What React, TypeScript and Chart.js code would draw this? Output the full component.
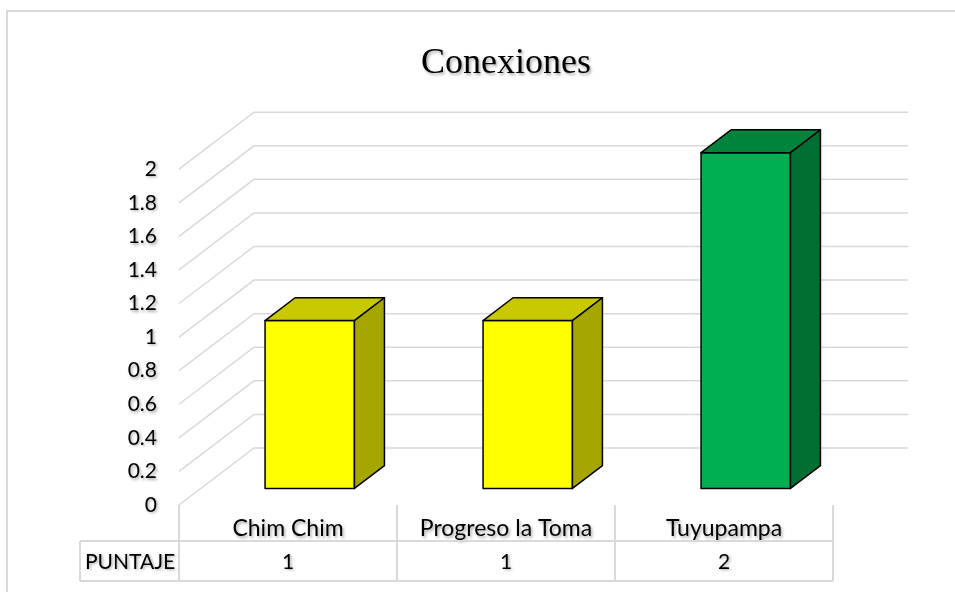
import React, { useEffect, useRef } from "react";
import { Chart, registerables } from "chart.js";

Chart.register(...registerables);

// Data
const categories = ["Chim Chim", "Progreso la Toma", "Tuyupampa"];
const puntaje = [1, 1, 2];
const yTickValues = [0, 0.2, 0.4, 0.6, 0.8, 1, 1.2, 1.4, 1.6, 1.8, 2];
const tableRowLabel = "PUNTAJE";
const chartTitle = "Conexiones";

// Column faces: front, top, side
const frontColors = ["#FFFF00", "#FFFF00", "#00B050"];
const topColors = ["#C8C800", "#C8C800", "#00843B"];
const sideColors = ["#A6A600", "#A6A600", "#006F31"];

// Perspective: offset from the front plane to the back wall
const DEPTH_X = 75;
const DEPTH_Y = -57;
// Depth slice occupied by the columns (fractions of wall depth)
const BAR_FRONT = 0.29;
const BAR_BACK = 0.69;

const GRID = "#D9D9D9";
const FONT = "Lato, 'Open Sans', sans-serif";
const TICK_SIZE = 21;
const CATEGORY_SIZE = 23;
const TABLE_SIZE = 21;

const setShadow = (ctx: CanvasRenderingContext2D) => {
  ctx.shadowColor = "rgba(0,0,0,0.35)";
  ctx.shadowBlur = 3;
  ctx.shadowOffsetX = 1.5;
  ctx.shadowOffsetY = 1.5;
};
const clearShadow = (ctx: CanvasRenderingContext2D) => {
  ctx.shadowColor = "rgba(0,0,0,0)";
  ctx.shadowBlur = 0;
  ctx.shadowOffsetX = 0;
  ctx.shadowOffsetY = 0;
};

const fillPoly = (
  ctx: CanvasRenderingContext2D,
  pts: number[][],
  color: string
) => {
  ctx.beginPath();
  ctx.moveTo(pts[0][0], pts[0][1]);
  for (let i = 1; i < pts.length; i++) ctx.lineTo(pts[i][0], pts[i][1]);
  ctx.closePath();
  ctx.fillStyle = color;
  ctx.fill();
  ctx.stroke();
};

const column3d = {
  id: "column3d",
  beforeDraw(chart: any) {
    const ctx: CanvasRenderingContext2D = chart.ctx;
    clearShadow(ctx);
    ctx.save();
    ctx.strokeStyle = GRID;
    ctx.lineWidth = 2;
    ctx.strokeRect(7, 11, chart.width + 10, chart.height + 10);
    ctx.restore();
    // soft shadow for title and axis labels
    setShadow(ctx);
  },
  beforeDatasetsDraw(chart: any) {
    const ctx: CanvasRenderingContext2D = chart.ctx;
    clearShadow(ctx);
    const { left, right, bottom } = chart.chartArea;
    const yScale = chart.scales.y;
    const xScale = chart.scales.x;

    ctx.save();
    // side-wall and back-wall gridlines
    ctx.strokeStyle = GRID;
    ctx.lineWidth = 1.5;
    yScale.ticks.forEach((t: any) => {
      const py = yScale.getPixelForValue(t.value);
      ctx.beginPath();
      ctx.moveTo(left, py);
      ctx.lineTo(left + DEPTH_X, py + DEPTH_Y);
      ctx.lineTo(right + DEPTH_X, py + DEPTH_Y);
      ctx.stroke();
    });

    // data table
    const step = (right - left) / categories.length;
    const rowTop = bottom + 36;
    const rowBottom = bottom + 76;
    const headerLeft = 80;
    ctx.lineWidth = 2;
    ctx.beginPath();
    ctx.moveTo(headerLeft, rowTop);
    ctx.lineTo(right, rowTop);
    ctx.moveTo(headerLeft, rowBottom);
    ctx.lineTo(right, rowBottom);
    ctx.moveTo(headerLeft, rowTop);
    ctx.lineTo(headerLeft, rowBottom);
    for (let i = 0; i <= categories.length; i++) {
      const px = left + i * step;
      ctx.moveTo(px, bottom);
      ctx.lineTo(px, rowBottom);
    }
    ctx.stroke();

    setShadow(ctx);
    ctx.fillStyle = "#000";
    ctx.font = `${TABLE_SIZE}px ${FONT}`;
    ctx.textBaseline = "middle";
    const rowMid = (rowTop + rowBottom) / 2 + 1;
    ctx.textAlign = "left";
    ctx.fillText(tableRowLabel, headerLeft + 5, rowMid);
    ctx.textAlign = "center";
    puntaje.forEach((v, i) => {
      ctx.fillText(String(v), xScale.getPixelForValue(i), rowMid);
    });
    ctx.restore();
    clearShadow(ctx);
  },
  afterDatasetsDraw(chart: any) {
    const ctx: CanvasRenderingContext2D = chart.ctx;
    clearShadow(ctx);
    const meta = chart.getDatasetMeta(0);
    const fx = BAR_FRONT * DEPTH_X;
    const fy = BAR_FRONT * DEPTH_Y;
    const dx = (BAR_BACK - BAR_FRONT) * DEPTH_X;
    const dy = (BAR_BACK - BAR_FRONT) * DEPTH_Y;
    ctx.save();
    ctx.strokeStyle = "#000";
    ctx.lineWidth = 1.5;
    ctx.lineJoin = "round";
    meta.data.forEach((bar: any, i: number) => {
      const { x, y, base, width } = bar.getProps(["x", "y", "base", "width"], true);
      const l = x - width / 2 + fx;
      const r = x + width / 2 + fx;
      const t = y + fy;
      const b = base + fy;
      fillPoly(ctx, [[l, t], [r, t], [r, b], [l, b]], frontColors[i]);
      fillPoly(ctx, [[l, t], [l + dx, t + dy], [r + dx, t + dy], [r, t]], topColors[i]);
      fillPoly(ctx, [[r, t], [r + dx, t + dy], [r + dx, b + dy], [r, b]], sideColors[i]);
    });
    ctx.restore();
  },
};

export default function App() {
  const canvasRef = useRef<HTMLCanvasElement | null>(null);

  useEffect(() => {
    if (!canvasRef.current) return;
    const chart = new Chart(canvasRef.current, {
      type: "bar",
      data: {
        labels: categories,
        datasets: [
          {
            label: tableRowLabel,
            data: puntaje,
            backgroundColor: "rgba(0,0,0,0)",
            borderWidth: 0,
            barPercentage: 0.41,
            categoryPercentage: 1,
          },
        ],
      },
      options: {
        responsive: false,
        animation: false,
        layout: { padding: { left: 0, right: 122, top: 0, bottom: 0 } },
        plugins: {
          legend: { display: false },
          tooltip: { enabled: false },
          title: {
            display: true,
            text: chartTitle,
            fullSize: false,
            color: "#000",
            font: {
              family: "'Liberation Serif', 'Times New Roman', serif",
              size: 36,
              weight: "normal",
            },
            padding: { top: 42, bottom: 84 },
          },
        },
        scales: {
          x: {
            grid: { display: false, drawTicks: false },
            border: { display: false },
            ticks: {
              color: "#000",
              font: { family: FONT, size: CATEGORY_SIZE },
              padding: 10,
            },
            afterFit: (s: any) => {
              s.height = 87;
            },
          },
          y: {
            min: 0,
            max: 2,
            grid: { display: false, drawTicks: false },
            border: { display: false },
            ticks: {
              color: "#000",
              font: { family: FONT, size: TICK_SIZE },
              padding: 22,
              callback: (value: any) => String(value),
            },
            afterBuildTicks: (s: any) => {
              s.ticks = yTickValues.map((v) => ({ value: v }));
            },
            afterFit: (s: any) => {
              s.width = 179;
            },
          },
        },
      },
      plugins: [column3d],
    });
    return () => chart.destroy();
  }, []);

  return (
    <div style={{ position: "absolute", left: 0, top: 0, width: 955, height: 592, background: "#fff" }}>
      <canvas ref={canvasRef} width={955} height={592} />
    </div>
  );
}
